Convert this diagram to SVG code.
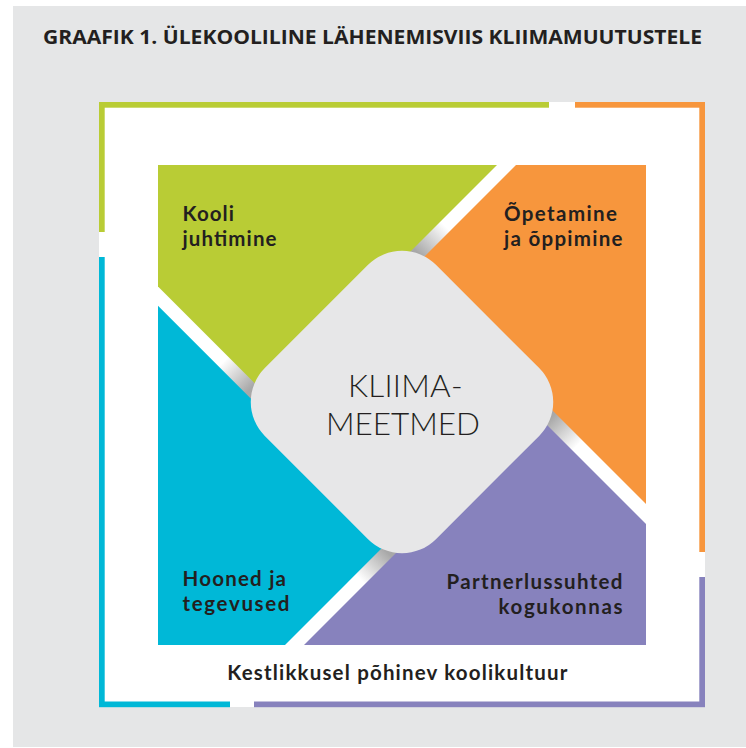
<svg xmlns="http://www.w3.org/2000/svg" width="746" height="748" viewBox="0 0 746 748">
  <defs>
    <style>
      .lbl { font-family: Lato, "Open Sans", "Liberation Sans", sans-serif; font-weight: 700; font-size: 20.5px; fill: #231f20; }
      .title { font-family: "Open Sans", "Liberation Sans", sans-serif; font-weight: 700; font-size: 19px; fill: #231f20; }
      .center { font-family: Lato, "Liberation Sans", sans-serif; font-weight: 300; font-size: 31.5px; fill: #231f20; text-anchor: middle; }
      .green { fill: #b9cc35; }
      .orange { fill: #f7963d; }
      .purple { fill: #8782bd; }
      .cyan { fill: #00b8d7; }
    </style>
    <linearGradient id="sh" gradientUnits="userSpaceOnUse" x1="418" y1="253" x2="445" y2="226">
      <stop offset="0" stop-color="#a8a8a8"/>
      <stop offset="1" stop-color="#ffffff"/>
    </linearGradient>
    <polygon id="shadow" points="387.5,267.5 447.5,207.5 465,225 405,285" fill="url(#sh)"/>
  </defs>

  <rect x="13" y="6" width="733" height="741" fill="#e5e6e7"/>

  <text class="title" x="43" y="44" textLength="659" lengthAdjust="spacingAndGlyphs">GRAAFIK 1. ÜLEKOOLILINE LÄHENEMISVIIS KLIIMAMUUTUSTELE</text>

  <g id="frame">
    <rect x="99" y="102" width="606" height="605" fill="#ffffff"/>
    <rect class="green" x="99" y="102" width="450" height="5.7"/>
    <rect class="green" x="99" y="102" width="5.7" height="130"/>
    <rect class="orange" x="575" y="102" width="130" height="5.7"/>
    <rect class="orange" x="699.3" y="102" width="5.7" height="450"/>
    <rect class="purple" x="699.3" y="577" width="5.7" height="130"/>
    <rect class="purple" x="254" y="701.5" width="451" height="5.7"/>
    <rect class="cyan" x="99" y="701.5" width="131" height="5.7"/>
    <rect class="cyan" x="99" y="257" width="5.7" height="450"/>
  </g>

  <g id="shadows">
    <use href="#shadow"/>
    <use href="#shadow" transform="rotate(90 402 402)"/>
    <use href="#shadow" transform="rotate(180 402 402)"/>
    <use href="#shadow" transform="rotate(270 402 402)"/>
  </g>

  <g id="kooli-juhtimine">
    <polygon class="green" points="158,165 497,165 266.8,395.2 158,286.4"/>
    <text class="lbl" x="182.5" y="221" textLength="51.5" lengthAdjust="spacing">Kooli</text>
    <text class="lbl" x="182.5" y="246" textLength="94" lengthAdjust="spacing">juhtimine</text>
  </g>

  <g id="opetamine">
    <polygon class="orange" points="516,165 646,165 646,504 411.5,269.5"/>
    <text class="lbl" x="504" y="221" textLength="113" lengthAdjust="spacing">Õpetamine</text>
    <text class="lbl" x="504" y="246" textLength="118.5" lengthAdjust="spacing">ja õppimine</text>
  </g>

  <g id="partnerlussuhted">
    <polygon class="purple" points="646,524 646,645 304,645 535.5,413.5"/>
    <text class="lbl" x="446.5" y="588.5" textLength="176" lengthAdjust="spacing">Partnerlussuhted</text>
    <text class="lbl" x="498.5" y="613.5" textLength="124" lengthAdjust="spacing">kogukonnas</text>
  </g>

  <g id="hooned">
    <polygon class="cyan" points="158,305.7 391.2,538.8 285,645 158,645"/>
    <text class="lbl" x="182.5" y="585.5" textLength="103.5" lengthAdjust="spacing">Hooned ja</text>
    <text class="lbl" x="182.5" y="611" textLength="107" lengthAdjust="spacing">tegevused</text>
  </g>

  <g id="kliimameetmed">
    <rect x="281" y="281" width="242" height="242" rx="48" ry="48" fill="#e7e7e8" transform="rotate(45 402 402)"/>
    <text class="center" x="405.3" y="397" textLength="114.7" lengthAdjust="spacing">KLIIMA-</text>
    <text class="center" x="403" y="435" textLength="154" lengthAdjust="spacing">MEETMED</text>
  </g>

  <text class="lbl" x="227.3" y="680" textLength="340" lengthAdjust="spacing">Kestlikkusel põhinev koolikultuur</text>
</svg>
